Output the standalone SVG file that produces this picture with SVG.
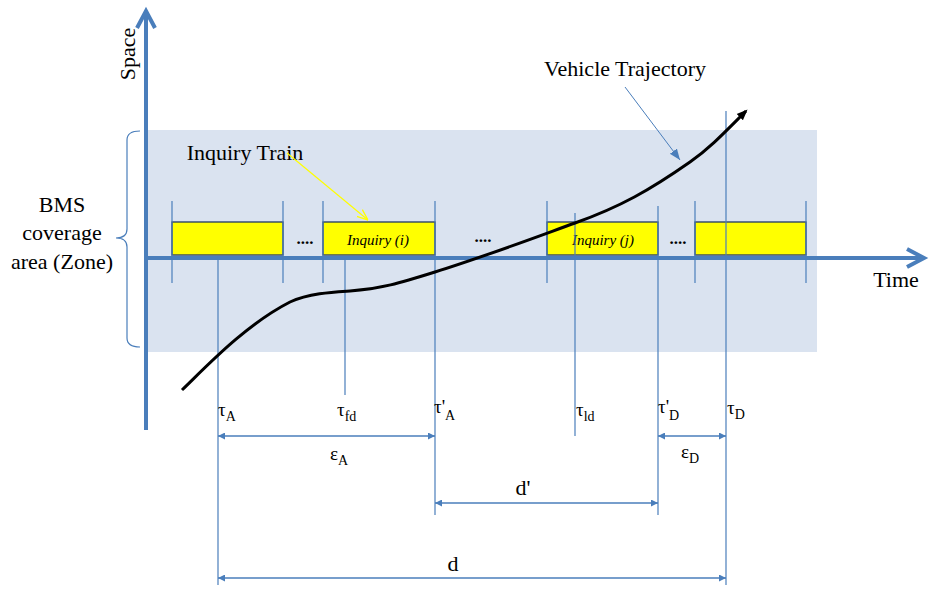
<svg xmlns="http://www.w3.org/2000/svg" width="929" height="590" viewBox="0 0 929 590">
<style>
text{font-family:'Liberation Serif','Times New Roman',serif;fill:#000}
.lbl{font-size:22px}
.tau{font-size:19px}
.sub{font-size:14px}
.thin{stroke:#4a7ebb;stroke-width:1.2;fill:none}
.box{fill:#ffff00;stroke:#1f3864;stroke-width:1.3}
.dim{stroke:#4a7ebb;stroke-width:1.3;fill:none;marker-start:url(#as);marker-end:url(#ae)}
</style>
<defs>
<marker id="ae" viewBox="0 0 10 10" refX="10" refY="5" markerWidth="7" markerHeight="7" markerUnits="userSpaceOnUse" orient="auto"><path d="M0,0 L10,5 L0,10 z" fill="#4a7ebb"/></marker>
<marker id="as" viewBox="0 0 10 10" refX="0" refY="5" markerWidth="7" markerHeight="7" markerUnits="userSpaceOnUse" orient="auto"><path d="M10,0 L0,5 L10,10 z" fill="#4a7ebb"/></marker>
<marker id="blk" viewBox="0 0 10 10" refX="8" refY="5" markerWidth="11" markerHeight="11" markerUnits="userSpaceOnUse" orient="auto"><path d="M0,1 L10,5 L0,9 z" fill="#000"/></marker>
<marker id="blu" viewBox="0 0 10 10" refX="10" refY="5" markerWidth="11" markerHeight="11" markerUnits="userSpaceOnUse" orient="auto"><path d="M0,1 L10,5 L0,9 z" fill="#4a7ebb"/></marker>
<marker id="yel" viewBox="0 0 10 10" refX="10" refY="5" markerWidth="11" markerHeight="11" markerUnits="userSpaceOnUse" orient="auto"><path d="M0,1 L10,5 L0,9" fill="none" stroke="#ffff00" stroke-width="1.2"/></marker>
</defs>

<g id="zone">
<rect x="146" y="130" width="671" height="222" fill="#dae3f0"/>
<path d="M140,131 Q127,131 127,140 L127,229 Q127,238 116,238 Q127,238 127,247 L127,338 Q127,347 140,347" class="thin"/>
<text class="lbl" x="62" y="212" text-anchor="middle">BMS</text>
<text class="lbl" x="62" y="240" text-anchor="middle">coverage</text>
<text class="lbl" x="62" y="269" text-anchor="middle">area (Zone)</text>
</g>

<g id="axes">
<line x1="146" y1="430" x2="146" y2="12" stroke="#4a7ebb" stroke-width="4"/>
<path d="M137,28 L146,11 L155,28" fill="none" stroke="#4a7ebb" stroke-width="4"/>
<line x1="146" y1="258" x2="923" y2="258" stroke="#4a7ebb" stroke-width="4"/>
<path d="M907,249 L924,258 L907,267" fill="none" stroke="#4a7ebb" stroke-width="4"/>
<text class="lbl" x="0" y="0" transform="translate(135,54) rotate(-90)" text-anchor="middle">Space</text>
<text class="lbl" x="896" y="287" text-anchor="middle">Time</text>
</g>

<g id="box1"><rect class="box" x="172" y="222" width="111" height="33"/></g>
<g id="box2"><rect class="box" x="323" y="222" width="112" height="33"/>
<text x="378" y="245" font-size="15" font-style="italic" text-anchor="middle">Inquiry (i)</text></g>
<g id="box3"><rect class="box" x="547" y="222" width="111" height="33"/>
<text x="603" y="245" font-size="15" font-style="italic" text-anchor="middle">Inquiry (j)</text></g>
<g id="box4"><rect class="box" x="695" y="222" width="111" height="33"/></g>

<g id="dots">
<text x="305" y="244" font-size="17" text-anchor="middle" font-weight="bold">....</text>
<text x="483" y="242" font-size="17" text-anchor="middle" font-weight="bold">....</text>
<text x="678" y="244" font-size="17" text-anchor="middle" font-weight="bold">....</text>
</g>

<g id="ticks">
<line class="thin" x1="172" y1="201" x2="172" y2="283"/>
<line class="thin" x1="283" y1="201" x2="283" y2="283"/>
<line class="thin" x1="323" y1="201" x2="323" y2="283"/>
<line class="thin" x1="435" y1="201" x2="435" y2="515"/>
<line class="thin" x1="547" y1="201" x2="547" y2="283"/>
<line class="thin" x1="658" y1="206" x2="658" y2="515"/>
<line class="thin" x1="695" y1="201" x2="695" y2="283"/>
<line class="thin" x1="806" y1="201" x2="806" y2="283"/>
<line class="thin" x1="218" y1="256" x2="218" y2="585"/>
<line class="thin" x1="345" y1="258" x2="345" y2="395"/>
<line class="thin" x1="575" y1="213" x2="575" y2="436"/>
<line class="thin" x1="726" y1="111" x2="726" y2="585"/>
</g>

<g id="trajectory">
<path d="M182,390 C205,368 245,325 290,302 C310,293 335,292 350,291 C380,289 400,283 435,272 C480,258 520,243 575,223 C620,207 650,190 690,162 C710,148 725,132 746,111" fill="none" stroke="#000" stroke-width="3" marker-end="url(#blk)"/>
</g>

<g id="labels">
<text class="lbl" x="625" y="76" text-anchor="middle">Vehicle Trajectory</text>
<text class="lbl" x="245" y="160" text-anchor="middle">Inquiry Train</text>
<text class="tau" x="218" y="416">τ<tspan class="sub" dy="5">A</tspan></text>
<text class="tau" x="337" y="416">τ<tspan class="sub" dy="5">fd</tspan></text>
<text class="tau" x="434" y="413">τ'<tspan class="sub" dy="7">A</tspan></text>
<text class="tau" x="576" y="416">τ<tspan class="sub" dy="5">ld</tspan></text>
<text class="tau" x="658" y="413">τ'<tspan class="sub" dy="7">D</tspan></text>
<text class="tau" x="727" y="414">τ<tspan class="sub" dy="5">D</tspan></text>
<text class="tau" x="330" y="460">ε<tspan class="sub" dy="5">A</tspan></text>
<text class="tau" x="681" y="458">ε<tspan class="sub" dy="5">D</tspan></text>
<text class="lbl" x="523" y="495" text-anchor="middle">d'</text>
<text class="lbl" x="453" y="571" text-anchor="middle">d</text>
</g>

<g id="connectors">
<line x1="625" y1="87" x2="680" y2="160" stroke="#4a7ebb" stroke-width="1" marker-end="url(#blu)"/>
<line x1="287" y1="153" x2="368" y2="220" stroke="#ffff00" stroke-width="1.2" marker-end="url(#yel)"/>
<line class="dim" x1="218" y1="436" x2="435" y2="436"/>
<line class="dim" x1="658" y1="436" x2="726" y2="436"/>
<line class="dim" x1="435" y1="503" x2="658" y2="503"/>
<line class="dim" x1="218" y1="578" x2="726" y2="578"/>
</g>
</svg>
